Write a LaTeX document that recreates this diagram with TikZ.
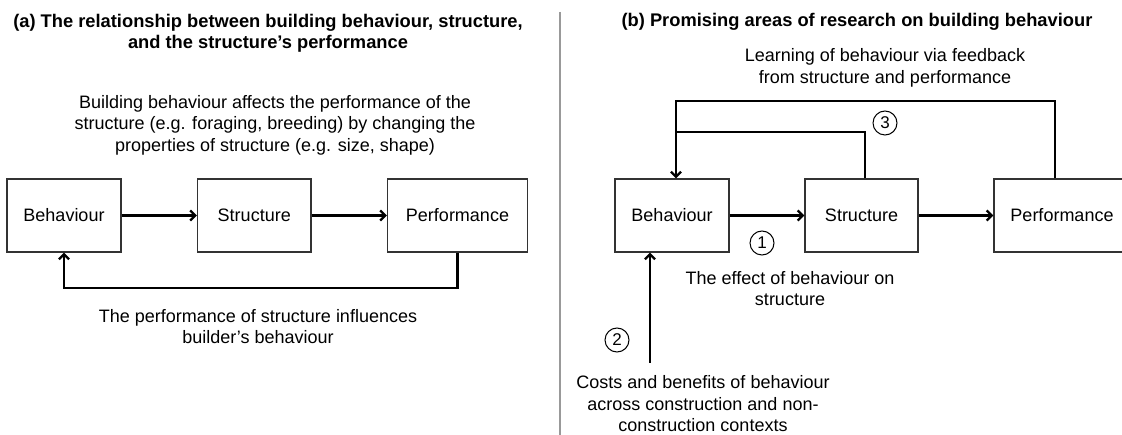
\documentclass[tikz,border=0pt]{standalone}
\usepackage{fontspec}
\setmainfont{Liberation Sans}
\usetikzlibrary{arrows.meta}
\tikzset{
  box/.style={draw=black!80, line width=1.3pt, rectangle, minimum height=73pt, inner sep=0pt, font=\fontsize{18}{21}\selectfont},
  conn/.style={draw=black, line width=2.3pt},
  arr/.style={conn, -{Straight Barb[length=5pt,width=10pt,line width=2.3pt]}},
  txt/.style={align=center, inner sep=0pt, font=\fontsize{18}{21.5}\selectfont},
  ttl/.style={align=center, inner sep=0pt, font=\fontsize{18.3}{21}\selectfont\bfseries},
  num/.style={draw=black, line width=1pt, circle, minimum size=24pt, inner sep=0pt, font=\fontsize{17}{17}\selectfont}
}
\begin{document}
\begin{tikzpicture}[x=1pt,y=-1pt]
\useasboundingbox (0,0) rectangle (1122,435);
% divider
\draw[black!40, line width=1.2pt] (560,12) -- (560,435);

% ---------- panel (a) ----------
\node[ttl] (ta) at (268,33) {(a) The relationship between building behaviour, structure,\\and the structure's performance};
\node[txt] (da) at (275,125) {Building behaviour affects the performance of the\\structure (e.g. foraging, breeding) by changing the\\properties of structure (e.g. size, shape)};
\node[box, minimum width=114pt] (lB) at (64,215.5) {Behaviour};
\node[box, minimum width=113.5pt] (lS) at (254.25,215.5) {Structure};
\node[box, minimum width=140pt] (lP) at (457.5,215.5) {Performance};
\draw[arr] (lB.east) -- (lS.west);
\draw[arr] (lS.east) -- (lP.west);
\coordinate (lfb) at (64,288);
\draw[arr] (lP.south) |- (lfb) -- (lB.south);
\node[txt] (fa) at (258,326.5) {The performance of structure influences\\builder's behaviour};

% ---------- panel (b) ----------
\node[ttl] (tb) at (857,22) {(b) Promising areas of research on building behaviour};
\node[txt] (lb) at (885,68) {Learning of behaviour via feedback\\from structure and performance};
\node[box, minimum width=114pt] (rB) at (672,215.5) {Behaviour};
\node[box, minimum width=113pt] (rS) at (861.5,215.5) {Structure};
\node[box, minimum width=136pt] (rP) at (1062,215.5) {Performance};
\draw[arr] (rB.east) -- (rS.west);
\draw[arr] (rS.east) -- (rP.west);
\coordinate (otop) at (676,101);
\coordinate (itop) at (676,132);
\draw[arr] ([xshift=-7pt]rP.north) |- (otop) -- ([xshift=4pt]rB.north);
\draw[conn] ([xshift=3.5pt]rS.north) |- (itop);
\node[num] (n3) at (885,123) {3};
\node[num] (n1) at (762,243) {1};
\node[txt] (eb) at (790,288.5) {The effect of behaviour on\\structure};
\node[num] (n2) at (617,340) {2};
\coordinate (cb) at (650,363);
\draw[arr] (cb) -- ([xshift=-22pt]rB.south);
\node[txt] (cost) at (703,404) {Costs and benefits of behaviour\\across construction and non-\\construction contexts};
\end{tikzpicture}
\end{document}
